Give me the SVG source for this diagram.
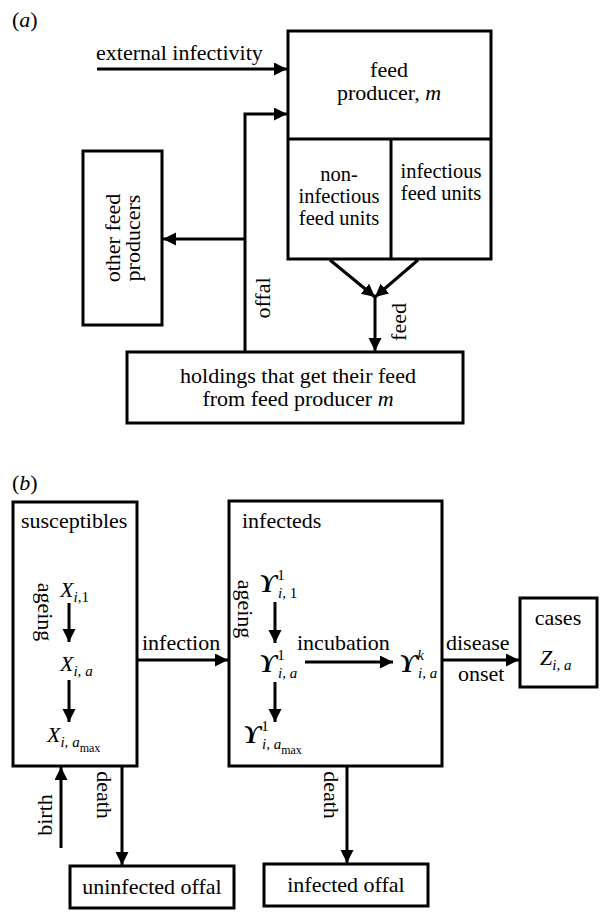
<svg xmlns="http://www.w3.org/2000/svg" width="604" height="917" viewBox="0 0 604 917">
<defs>
<style>
text{font-family:"Liberation Serif","Times New Roman",serif;font-size:22px;fill:#000}
.m{text-anchor:middle}
.it{font-style:italic}
.sub{font-size:15px}
.sub2{font-size:12px}
.cell{font-size:20.5px}
.box{fill:#fff;stroke:#000;stroke-width:3}
.ln{fill:none;stroke:#000;stroke-width:3}
.ya{font-weight:bold;font-style:italic;font-size:25px}
</style>
<marker id="ah" markerUnits="userSpaceOnUse" markerWidth="14" markerHeight="14" refX="13" refY="6.5" orient="auto">
<path d="M0,0 L13,6.5 L0,13 z" fill="#000"/>
</marker>
</defs>
<rect width="604" height="917" fill="#fff"/>

<text x="12" y="27">(<tspan class="it">a</tspan>)</text>
<text x="12" y="490">(<tspan class="it">b</tspan>)</text>

<g id="feed-producer">
<rect class="box" x="288" y="31" width="203" height="228"/>
<line class="ln" x1="288" y1="139" x2="491" y2="139"/>
<text x="389" y="77" class="m">feed</text>
<text x="389" y="100" class="m">producer, <tspan class="it">m</tspan></text>
</g>
<g id="non-infectious">
<line class="ln" x1="391" y1="139" x2="391" y2="259" stroke-width="3.5"/>
<text x="339" y="181" class="m cell">non-</text>
<text x="339" y="203" class="m cell">infectious</text>
<text x="339" y="225" class="m cell">feed units</text>
</g>
<g id="infectious">
<text x="441" y="178" class="m cell">infectious</text>
<text x="441" y="200" class="m cell">feed units</text>
</g>
<g id="other-producers">
<rect class="box" x="83" y="151" width="79" height="174"/>
<text transform="translate(120,238) rotate(-90)" class="m">other feed</text>
<text transform="translate(140,238) rotate(-90)" class="m">producers</text>
</g>
<g id="holdings">
<rect class="box" x="127" y="352" width="336" height="71"/>
<text x="298" y="383" class="m">holdings that get their feed</text>
<text x="298" y="406" class="m">from feed producer <tspan class="it">m</tspan></text>
</g>

<g id="susceptibles">
<rect class="box" x="13" y="502" width="124" height="264"/>
<text x="21" y="528">susceptibles</text>
<text x="60" y="597"><tspan class="it">X</tspan><tspan class="sub it" dy="5">i</tspan><tspan class="sub">,1</tspan></text>
<text x="60" y="671"><tspan class="it">X</tspan><tspan class="sub it" dy="5">i,</tspan><tspan class="sub it"> a</tspan></text>
<text x="47" y="742"><tspan class="it">X</tspan><tspan class="sub it" dy="5">i,</tspan><tspan class="sub it"> a</tspan><tspan class="sub2" dy="5">max</tspan></text>
</g>
<g id="infecteds">
<rect class="box" x="229" y="501" width="213" height="265"/>
<text x="242" y="528">infecteds</text>
<text x="259" y="592"><tspan class="ya">ϒ</tspan><tspan class="sub" dy="-12">1</tspan></text>
<text x="278" y="598" class="sub it">i,<tspan font-style="normal"> 1</tspan></text>
<text x="259" y="672"><tspan class="ya">ϒ</tspan><tspan class="sub" dy="-12">1</tspan></text>
<text x="278" y="678" class="sub it">i, a</text>
<text x="399" y="672"><tspan class="ya">ϒ</tspan><tspan class="sub it" dy="-12">k</tspan></text>
<text x="418" y="678" class="sub it">i, a</text>
<text x="243" y="743"><tspan class="ya">ϒ</tspan><tspan class="sub" dy="-12">1</tspan></text>
<text x="262" y="749" class="sub it">i, a<tspan class="sub2" font-style="normal" dy="5">max</tspan></text>
</g>
<g id="cases">
<rect class="box" x="520" y="598" width="77" height="89"/>
<text x="558" y="625" class="m">cases</text>
<text x="540" y="665"><tspan class="it">Z</tspan><tspan class="sub it" dy="5">i, a</tspan></text>
</g>
<g id="uninfected-offal">
<rect class="box" x="70" y="866" width="164" height="42"/>
<text x="152" y="894" class="m">uninfected offal</text>
</g>
<g id="infected-offal">
<rect class="box" x="264" y="864" width="164" height="42"/>
<text x="346" y="892" class="m">infected offal</text>
</g>

<g id="connectors">
<line class="ln" x1="97" y1="69" x2="287" y2="69" marker-end="url(#ah)"/>
<polyline class="ln" points="245,351 245,114 287,114" marker-end="url(#ah)"/>
<line class="ln" x1="245" y1="239" x2="163" y2="239" marker-end="url(#ah)"/>
<line class="ln" x1="330" y1="260" x2="375" y2="297" marker-end="url(#ah)"/>
<line class="ln" x1="418" y1="260" x2="375" y2="297" marker-end="url(#ah)"/>
<line class="ln" x1="375" y1="297" x2="375" y2="351" marker-end="url(#ah)"/>
<text transform="translate(270,298) rotate(-90)" class="m">offal</text>
<text transform="translate(406,322) rotate(-90)" class="m">feed</text>
<text x="96" y="60">external infectivity</text>

<line class="ln" x1="69" y1="603" x2="69" y2="642" marker-end="url(#ah)"/>
<line class="ln" x1="69" y1="680" x2="69" y2="722" marker-end="url(#ah)"/>
<line class="ln" x1="138" y1="660" x2="228" y2="660" marker-end="url(#ah)"/>
<line class="ln" x1="275" y1="602" x2="275" y2="643" marker-end="url(#ah)"/>
<line class="ln" x1="275" y1="682" x2="275" y2="722" marker-end="url(#ah)"/>
<line class="ln" x1="305" y1="662" x2="393" y2="662" marker-end="url(#ah)"/>
<line class="ln" x1="443" y1="660" x2="519" y2="660" marker-end="url(#ah)"/>
<line class="ln" x1="122" y1="767" x2="122" y2="865" marker-end="url(#ah)"/>
<line class="ln" x1="61" y1="848" x2="61" y2="767" marker-end="url(#ah)"/>
<line class="ln" x1="347" y1="767" x2="347" y2="863" marker-end="url(#ah)"/>
<text transform="translate(38,612) rotate(90)" class="m">ageing</text>
<text transform="translate(238,609) rotate(90)" class="m">ageing</text>
<text x="142" y="650">infection</text>
<text x="297" y="650">incubation</text>
<text x="446" y="650">disease</text>
<text x="458" y="681">onset</text>
<text transform="translate(97,795) rotate(90)" class="m">death</text>
<text transform="translate(52,815) rotate(-90)" class="m">birth</text>
<text transform="translate(324,795) rotate(90)" class="m">death</text>
</g>
</svg>
